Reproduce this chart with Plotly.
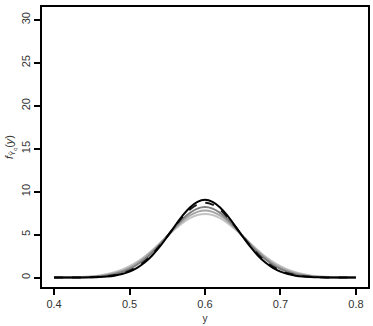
import plotly.graph_objects as go

x_vals = [round(0.40 + 0.01 * i, 2) for i in range(41)]

# density curves (x from 0.40 to 0.80 step 0.01)
black_solid = [0.000, 0.001, 0.002, 0.005, 0.013, 0.028, 0.059, 0.117, 0.223,
               0.403, 0.692, 1.128, 1.746, 2.568, 3.587, 4.759, 5.998, 7.180, 8.166,
               8.820, 9.050, 8.820, 8.166, 7.180, 5.998, 4.759, 3.587, 2.568, 1.746,
               1.128, 0.692, 0.403, 0.223, 0.117, 0.059, 0.028, 0.013, 0.005, 0.002,
               0.001, 0.000]
black_dashed = [0.001, 0.002, 0.004, 0.009, 0.020, 0.042, 0.083, 0.158, 0.285, 0.492,
                0.811, 1.272, 1.905, 2.719, 3.702, 4.807, 5.951, 7.027, 7.912, 8.496,
                8.700, 8.496, 7.912, 7.027, 5.951, 4.807, 3.702, 2.719, 1.905, 1.272,
                0.811, 0.492, 0.285, 0.158, 0.083, 0.042, 0.020, 0.009, 0.004, 0.002,
                0.001]
gray_dark = [0.002, 0.004, 0.009, 0.019, 0.037, 0.071, 0.132, 0.232, 0.394, 0.640,
             0.996, 1.487, 2.127, 2.919, 3.839, 4.841, 5.853, 6.783, 7.537, 8.029,
             8.200, 8.029, 7.537, 6.783, 5.853, 4.841, 3.839, 2.919, 2.127, 1.487,
             0.996, 0.640, 0.394, 0.232, 0.132, 0.071, 0.037, 0.019, 0.009, 0.004,
             0.002]
gray_mid = [0.004, 0.008, 0.016, 0.031, 0.058, 0.105, 0.183, 0.307, 0.495, 0.769,
            1.149, 1.654, 2.290, 3.052, 3.915, 4.833, 5.742, 6.565, 7.225, 7.652,
            7.800, 7.652, 7.225, 6.565, 5.742, 4.833, 3.915, 3.052, 2.290, 1.654,
            1.149, 0.769, 0.495, 0.307, 0.183, 0.105, 0.058, 0.031, 0.016, 0.008,
            0.004]
gray_light = [0.008, 0.015, 0.028, 0.051, 0.090, 0.154, 0.254, 0.404, 0.621, 0.922,
              1.324, 1.836, 2.460, 3.184, 3.983, 4.813, 5.619, 6.338, 6.908, 7.274,
              7.400, 7.274, 6.908, 6.338, 5.619, 4.813, 3.983, 3.184, 2.460, 1.836,
              1.324, 0.922, 0.621, 0.404, 0.254, 0.154, 0.090, 0.051, 0.028, 0.015,
              0.008]

x_ticks = [0.4, 0.5, 0.6, 0.7, 0.8]
x_tick_labels = ["0.4", "0.5", "0.6", "0.7", "0.8"]
y_ticks = [0, 5, 10, 15, 20, 25, 30]
y_tick_labels = ["0", "5", "10", "15", "20", "25", "30"]

fig = go.Figure()
series = [
    (gray_light, "#c4c4c4", "solid"),
    (gray_mid, "#a6a6a6", "solid"),
    (gray_dark, "#808080", "solid"),
    (black_dashed, "#1a1a1a", "dash"),
    (black_solid, "#000000", "solid"),
]
for ys, col, dash in series:
    fig.add_trace(go.Scatter(x=x_vals, y=ys, mode="lines",
                             line=dict(color=col, width=2, dash=dash, shape="spline"),
                             showlegend=False, hoverinfo="skip"))

font = dict(family="Liberation Sans, Arial, sans-serif", size=11, color="#333")
fig.update_layout(
    width=373, height=326,
    margin=dict(l=42, r=3, t=7, b=39),
    paper_bgcolor="white", plot_bgcolor="white",
    font=font,
    xaxis=dict(range=[0.384, 0.816], tickvals=x_ticks, ticktext=x_tick_labels,
               showgrid=False, zeroline=False, showline=True, mirror=True,
               linecolor="black", linewidth=1.5, ticks="outside", ticklen=6,
               tickcolor="black", tickwidth=1.5,
               title=dict(text="y", font=dict(size=10, color="#333"), standoff=6)),
    yaxis=dict(range=[-1.1, 31.5], tickvals=y_ticks, ticktext=y_tick_labels,
               tickangle=-90,
               showgrid=False, zeroline=False, showline=True, mirror=True,
               linecolor="black", linewidth=1.5, ticks="outside", ticklen=6,
               tickcolor="black", tickwidth=1.5,
               title=dict(text="<i>f</i><sub>Ŷ<sub>q</sub></sub>(<i>y</i>)",
                          font=dict(size=11, color="#333"), standoff=4)),
)
fig.write_html("out.html")
